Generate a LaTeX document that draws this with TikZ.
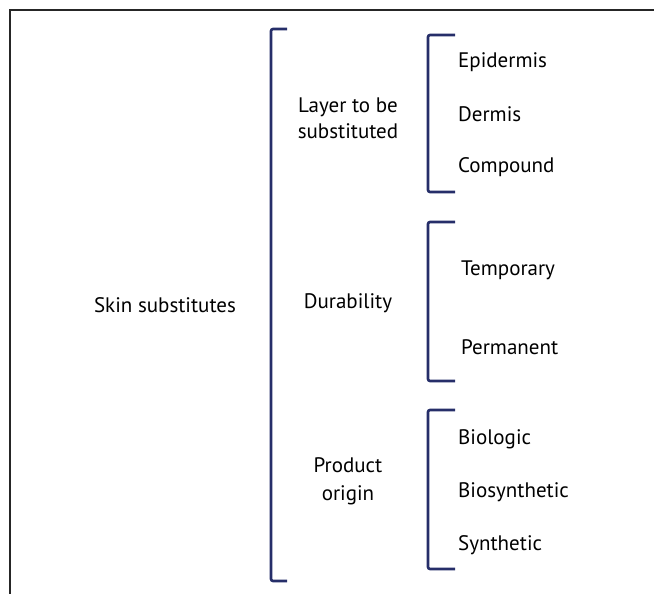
\documentclass[tikz,border=0pt]{standalone}
\usepackage{fontspec}
\setmainfont{PT Sans}
\begin{document}
\begin{tikzpicture}[x=1pt,y=-1pt]
  \tikzset{brack/.style={draw=brackblue,line width=2.6pt,rounded corners=2pt},
           lbl/.style={font=\fontsize{21}{26}\selectfont,inner sep=0pt,align=center},
           leaf/.style={lbl,anchor=west}}
  \definecolor{brackblue}{RGB}{38,46,105}
  \useasboundingbox (0,0) rectangle (654,594);
  % frame
  \draw[line width=1.4pt,black!85] (10,594) -- (10,10) -- (654,10);
  % root and groups
  \node [lbl] (skin) at (165,305) {Skin substitutes};
  \node [lbl] (layer) at (348,118) {Layer to be\\substituted};
  \node [lbl] (dura) at (348,303) {Durability};
  \node [lbl,font=\fontsize{21}{28}\selectfont] (origin) at (348,481) {Product\\origin};
  % brackets
  \draw[brack] (287,29) -- (271,29) -- (271,581) -- (287,581);
  \draw[brack] (455,35) -- (428,35) -- (428,192) -- (455,192);
  \draw[brack] (455,222) -- (428,222) -- (428,381) -- (455,381);
  \draw[brack] (455,410) -- (428,410) -- (428,569) -- (455,569);
  % leaves
  \node [leaf] (epi) at (458,62) {Epidermis};
  \node [leaf] (derm) at (458,114) {Dermis};
  \node [leaf] (comp) at (458,167) {Compound};
  \node [leaf] (temp) at (461,270) {Temporary};
  \node [leaf] (perm) at (461,347) {Permanent};
  \node [leaf] (bio) at (458,439) {Biologic};
  \node [leaf] (biosyn) at (458,492) {Biosynthetic};
  \node [leaf] (syn) at (458,545) {Synthetic};
\end{tikzpicture}
\end{document}
